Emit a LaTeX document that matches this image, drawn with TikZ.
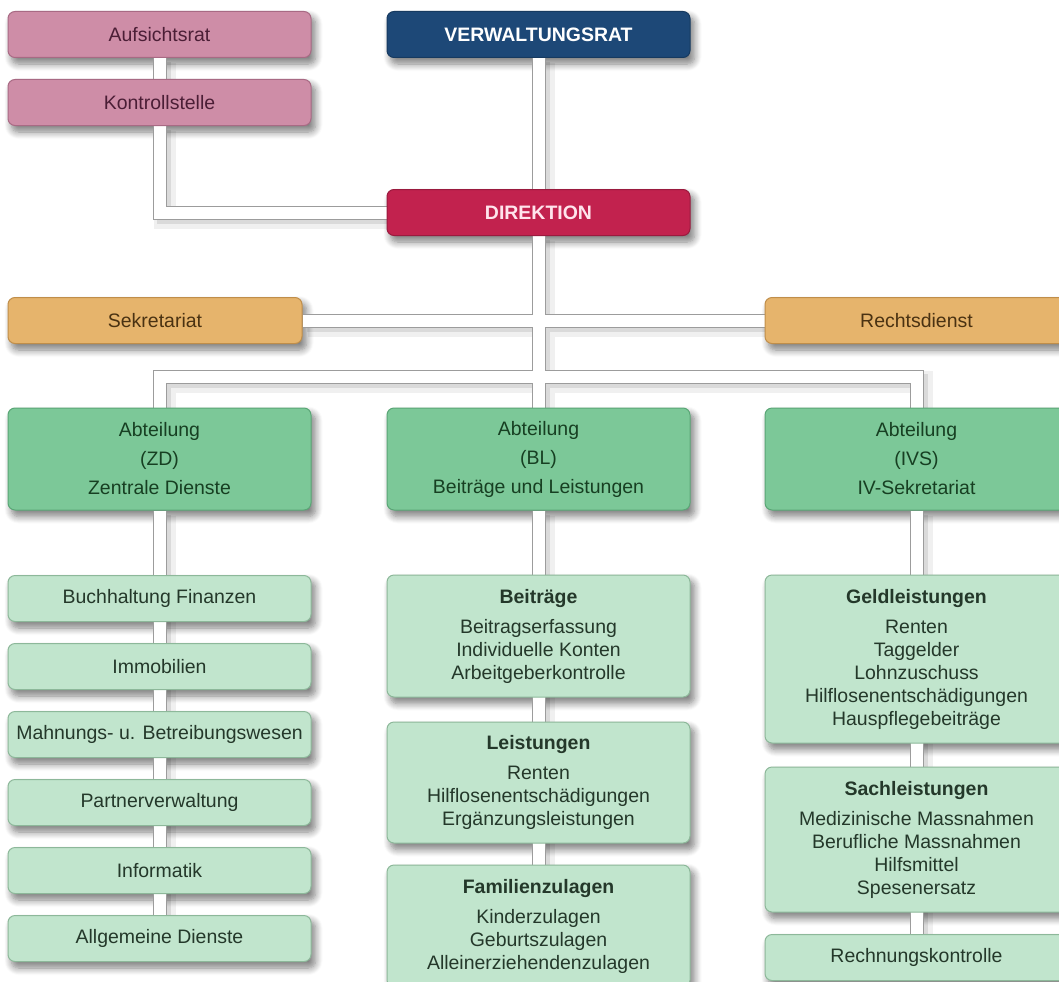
\documentclass[tikz,border=0pt]{standalone}
\usepackage{fontspec}
\setmainfont{Liberation Sans}
\usetikzlibrary{shadows.blur}

\newdimen\px \px=0.75pt

\pgfdeclarelayer{shadow}
\pgfdeclarelayer{pipes}
\pgfsetlayers{shadow,pipes,main}

\definecolor{pinkfill}{HTML}{CE8DA7}
\definecolor{pinkline}{HTML}{A86A84}
\definecolor{pinktext}{HTML}{4B1E36}
\definecolor{bluefill}{HTML}{1D4877}
\definecolor{blueline}{HTML}{163A60}
\definecolor{redfill}{HTML}{C2224E}
\definecolor{redline}{HTML}{9A1A3E}
\definecolor{redtext}{HTML}{FFE4EC}
\definecolor{orangefill}{HTML}{E6B46C}
\definecolor{orangeline}{HTML}{C08E4A}
\definecolor{orangetext}{HTML}{4A3212}
\definecolor{greenfill}{HTML}{7CC898}
\definecolor{greenline}{HTML}{5AA676}
\definecolor{greentext}{HTML}{173F22}
\definecolor{lightfill}{HTML}{C1E5CD}
\definecolor{lightline}{HTML}{8DB89A}
\definecolor{lighttext}{HTML}{24382A}
\definecolor{pipeline}{HTML}{9C9C9C}

\tikzset{
	box/.style={rectangle, rounded corners=7\px, line width=1\px, inner sep=0pt,
		align=center, minimum width=303\px, minimum height=46\px,
		font=\fontsize{14.6pt}{17.25pt}\selectfont},
	pinkbox/.style={box, fill=pinkfill, draw=pinkline, text=pinktext},
	bluebox/.style={box, fill=bluefill, draw=blueline, text=white},
	redbox/.style={box, fill=redfill, draw=redline, text=redtext},
	orangebox/.style={box, fill=orangefill, draw=orangeline, text=orangetext},
	abtbox/.style={box, fill=greenfill, draw=greenline, text=greentext, minimum height=102\px,
		font=\fontsize{14.6pt}{21.75pt}\selectfont},
	unitbox/.style={box, fill=lightfill, draw=lightline, text=lighttext},
	boxshadow/.style={rounded corners=7\px,
		blur shadow={shadow xshift=4\px, shadow yshift=-6\px, shadow opacity=50, shadow blur radius=7\px, shadow blur steps=8}},
	pipe/.style={draw=pipeline, line width=1\px, double=white, double distance=12\px,
		preaction={draw=black, opacity=0.06, line width=22\px,
			transform canvas={xshift=5\px, yshift=-5\px}},
		preaction={draw=black, opacity=0.09, line width=14\px,
			transform canvas={xshift=4\px, yshift=-4\px}}}
}

\begin{document}
\begin{tikzpicture}[x=0.75pt, y=-0.75pt]
		\useasboundingbox (0,0) rectangle (1059,981);
		\clip (0,0) rectangle (1059,981);
		
		% Leitung
		\node[pinkbox] (auf) at (159.5,34.5) {Aufsichtsrat};
		\node[pinkbox] (kon) at (159.5,102.5) {Kontrollstelle};
		\node[bluebox] (vr) at (538.5,34.5) {\textbf{VERWALTUNGSRAT}};
		\node[redbox] (dir) at (538.5,212.5) {\textbf{DIREKTION}};
		\node[orangebox, minimum width=294\px] (sek) at (155,320.5) {Sekretariat};
		\node[orangebox] (rd) at (916.5,320.5) {Rechtsdienst};
		
		% Abteilungen
		\node[abtbox] (zd) at (159.5,459) {Abteilung\\(ZD)\\Zentrale Dienste};
		\node[abtbox] (bl) at (538.5,459) {Abteilung\\(BL)\\Beiträge und Leistungen};
		\node[abtbox] (ivs) at (916.5,459) {Abteilung\\(IVS)\\IV-Sekretariat};
		\coordinate (bus) at (538.5,377);
		
		% Zentrale Dienste
		\node[unitbox] (buch) at (159.5,598.5) {Buchhaltung Finanzen};
		\node[unitbox] (immo) at (159.5,666.5) {Immobilien};
		\node[unitbox] (mahn) at (159.5,734.5) {Mahnungs- u. Betreibungswesen};
		\node[unitbox] (partner) at (159.5,802.5) {Partnerverwaltung};
		\node[unitbox] (info) at (159.5,870.5) {Informatik};
		\node[unitbox] (allg) at (159.5,938.5) {Allgemeine Dienste};
		
		% Beiträge und Leistungen
		\node[unitbox, minimum height=122\px] (beitr) at (538.5,636)
			{\textbf{Beiträge}\\[7\px]Beitragserfassung\\Individuelle Konten\\Arbeitgeberkontrolle};
		\node[unitbox, minimum height=121\px] (leist) at (538.5,782.5)
			{\textbf{Leistungen}\\[7\px]Renten\\Hilflosenentschädigungen\\Ergänzungsleistungen};
		\node[unitbox, minimum height=122\px] (fam) at (538.5,926)
			{\textbf{Familienzulagen}\\[7\px]Kinderzulagen\\Geburtszulagen\\Alleinerziehendenzulagen};
		
		% IV-Sekretariat
		\node[unitbox, minimum height=168\px] (geld) at (916.5,659)
			{\textbf{Geldleistungen}\\[7\px]Renten\\Taggelder\\Lohnzuschuss\\Hilflosenentschädigungen\\Hauspflegebeiträge};
		\node[unitbox, minimum height=145\px] (sach) at (916.5,839.5)
			{\textbf{Sachleistungen}\\[7\px]Medizinische Massnahmen\\Berufliche Massnahmen\\Hilfsmittel\\Spesenersatz};
		\node[unitbox] (rk) at (916.5,957.5) {Rechnungskontrolle};
		
		% Schatten
		\begin{pgfonlayer}{shadow}
			\foreach \n in {auf,kon,vr,dir,sek,rd,zd,bl,ivs,buch,immo,mahn,partner,info,allg,beitr,leist,fam,geld,sach,rk}
				\path[boxshadow] (\n.south west) rectangle (\n.north east);
		\end{pgfonlayer}
		
		% Verbindungen
		\begin{pgfonlayer}{pipes}
			\draw[pipe] (auf) -- (kon) (kon) |- (dir)
				(vr) -- (dir) (dir) -- (bl)
				(sek) -- (sek -| dir) (rd) -- (rd -| dir)
				(zd) |- (bus) -| (ivs)
				(zd) -- (allg) (bl) -- (fam) (ivs) -- (rk);
		\end{pgfonlayer}
		
	\end{tikzpicture}
\end{document}
